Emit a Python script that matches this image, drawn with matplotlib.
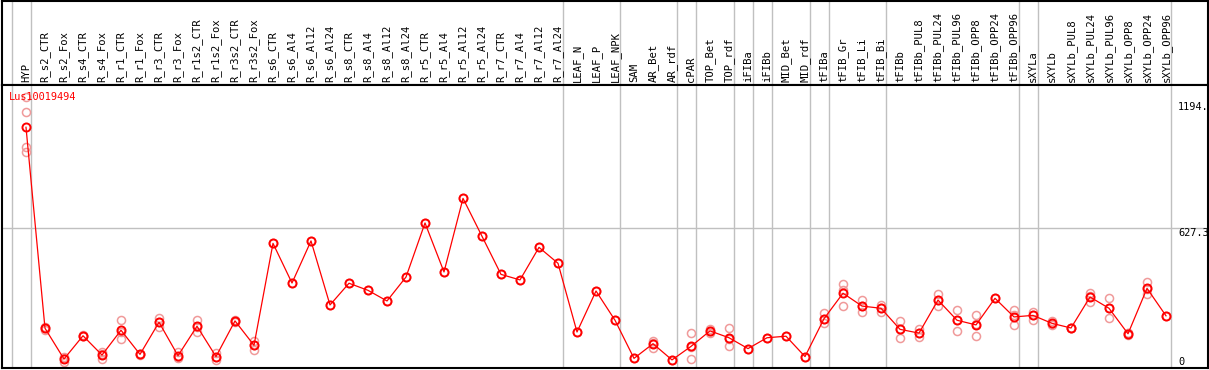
import numpy as np
from matplotlib import pyplot as plt

# sample names (x axis, drawn as rotated header)
samples = ['HYP', 'R_s2_CTR', 'R_s2_Fox', 'R_s4_CTR', 'R_s4_Fox', 'R_r1_CTR', 'R_r1_Fox',
           'R_r3_CTR', 'R_r3_Fox', 'R_r1s2_CTR', 'R_r1s2_Fox', 'R_r3s2_CTR', 'R_r3s2_Fox',
           'R_s6_CTR', 'R_s6_Al4', 'R_s6_Al12', 'R_s6_Al24', 'R_s8_CTR', 'R_s8_Al4',
           'R_s8_Al12', 'R_s8_Al24', 'R_r5_CTR', 'R_r5_Al4', 'R_r5_Al12', 'R_r5_Al24',
           'R_r7_CTR', 'R_r7_Al4', 'R_r7_Al12', 'R_r7_Al24', 'LEAF_N', 'LEAF_P', 'LEAF_NPK',
           'SAM', 'AR_Bet', 'AR_rdf', 'cPAR', 'TOP_Bet', 'TOP_rdf', 'iFIBa', 'iFIBb',
           'MID_Bet', 'MID_rdf', 'tFIBa', 'tFIB_Gr', 'tFIB_Li', 'tFIB_Bi', 'tFIBb',
           'tFIBb_PUL8', 'tFIBb_PUL24', 'tFIBb_PUL96', 'tFIBb_OPP8', 'tFIBb_OPP24',
           'tFIBb_OPP96', 'sXYLa', 'sXYLb', 'sXYLb_PUL8', 'sXYLb_PUL24', 'sXYLb_PUL96',
           'sXYLb_OPP8', 'sXYLb_OPP24', 'sXYLb_OPP96']

# mean expression per sample
means = [1082, 175, 36, 141, 54, 166, 57, 202, 51, 184, 47, 208, 98,
         558, 379, 569, 280, 378, 346, 298, 406, 650, 429, 761, 590,
         418, 393, 540, 468, 158, 343, 211,
         39, 105, 32, 93, 163, 132, 83, 132, 139, 47,
         218, 333, 275, 265, 170, 153, 302, 211, 190, 310, 226,
         233, 197, 176, 316, 265, 150, 355, 231]

# replicate values
reps = [[1220, 1150, 992, 970], [182, 175, 165], [40, 24, 44], [138, 144, 142],
        [69, 35, 58], [212, 125, 160], [55, 60, 57], [221, 179, 205], [66, 42, 45],
        [212, 158, 181], [62, 32, 46], [205, 210, 208], [119, 77, 98],
        [558], [379], [569], [280], [378], [346], [298], [406], [650], [429], [761], [590],
        [418], [393], [540], [468], [158], [343], [211],
        [39], [119, 87, 110], [32], [152, 36, 92], [172, 152, 164], [175, 96, 126],
        [83], [132], [139], [47],
        [242, 197, 215], [373, 347, 275], [302, 250, 274], [280, 250, 265],
        [208, 133, 170], [172, 134, 154], [329, 275, 303], [256, 162, 214],
        [233, 140, 195], [310], [256, 188, 233],
        [250, 214, 236], [209, 194, 189], [176, 174, 178], [335, 292, 320],
        [310, 220, 265], [146, 153, 152], [385, 328, 353], [231]]

# last sample index of each tissue group (gray separators)
group_ends = [-1, 0, 28, 31, 34, 35, 37, 38, 39, 41, 42, 45, 52, 53, 60]
ytick_vals = [1194, 627.3, 0]
ytick_labels = ['1194.', '627.3', '0']
gene = 'Lus10019494'

W, H = 1209, 370
fig = plt.figure(figsize=(W / 100, H / 100), dpi=100)
ax_h = fig.add_axes([2 / W, (H - 85) / H, 1206 / W, 84 / H])
ax = fig.add_axes([2 / W, 2 / H, 1206 / W, 283 / H])

x = np.arange(len(samples))
xlim = (-1.263, 62.21)
for a in (ax, ax_h):
    a.set_xlim(*xlim)
    a.set_xticks([])
    a.set_yticks([])
    for s in a.spines.values():
        s.set_linewidth(1.5)
        s.set_color('black')
    for g in group_ends:
        a.axvline(g + 0.25, color='#c0c0c0', lw=1, zorder=0)

ax_h.set_ylim(0, 1)
for i, name in enumerate(samples):
    ax_h.text(i, 0.03, name, rotation=90, ha='center', va='bottom',
              family='DejaVu Sans Mono', fontsize=7.6)

ax.set_ylim(-4.5, 1272.7)
ax.axhline(627.3, color='#c0c0c0', lw=1, zorder=0)

for i, r in enumerate(reps):
    ax.plot([i] * len(r), r, 'o', ms=5.8, mfc='none', mec='#f09a9a', mew=1.1, zorder=2)
ax.plot(x, means, '-', color='red', lw=0.9, zorder=3)
ax.plot(x, means, 'o', ms=5.8, mfc='none', mec='red', mew=1.4, zorder=4)

for v, lab in zip(ytick_vals, ytick_labels):
    ax.text(60.63, v, lab, ha='left', va='bottom' if v == 0 else 'top',
            family='DejaVu Sans Mono', fontsize=7.4)

ax.text(-0.88, 1218, gene, color='red', ha='left', va='center',
        family='DejaVu Sans Mono', fontsize=7.4, zorder=5)

fig.savefig('out.png', dpi=100)
